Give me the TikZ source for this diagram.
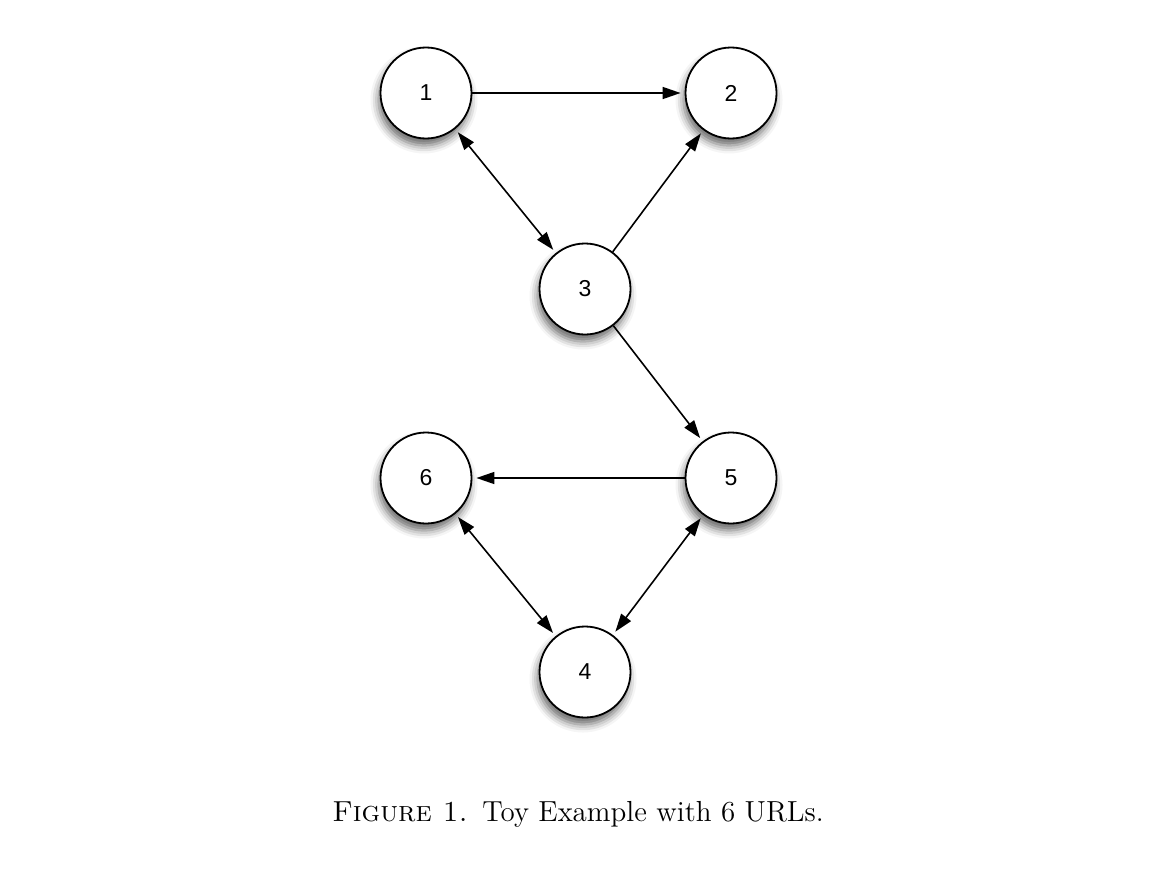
\documentclass[tikz,border=0pt]{standalone}
\usepackage{fontspec}
\newfontfamily\numfont{Liberation Sans}
\usetikzlibrary{arrows.meta,shadows.blur}
\tikzset{
  urlnode/.style={circle, draw=black, line width=0.9pt, fill=white, minimum size=45.5pt, inner sep=0pt,
    font=\numfont\fontsize{11.5}{13}\selectfont,
    blur shadow={shadow xshift=-1pt, shadow yshift=-3.5pt, shadow blur radius=4pt, shadow opacity=60}},
  link/.style={line width=0.8pt, -{Triangle[length=9pt,width=6pt]}, shorten >=2pt},
  biLink/.style={line width=0.8pt, {Triangle[length=9pt,width=6pt]}-{Triangle[length=9pt,width=6pt]}, shorten >=2pt, shorten <=2pt},
}
\begin{document}
\begin{tikzpicture}[x=0.5pt,y=-0.5pt]
\useasboundingbox (0,0) rectangle (1170,888);
\node[urlnode] (n1) at (426,93) {1};
\node[urlnode] (n2) at (731,93) {2};
\node[urlnode] (n3) at (585,289) {3};
\node[urlnode] (n5) at (731,478) {5};
\node[urlnode] (n6) at (426,478) {6};
\node[urlnode] (n4) at (585,672) {4};
\draw[link] (n1) -- (n2);
\draw[biLink] (n1) -- (n3);
\draw[link] (n3) -- (n2);
\draw[link] (n3) -- (n5);
\draw[link] (n5) -- (n6);
\draw[biLink] (n6) -- (n4);
\draw[biLink] (n5) -- (n4);
\node[anchor=base, font=\fontsize{14.5}{17}\selectfont] (cap) at (578,821) {\textsc{Figure 1.}\enspace Toy Example with 6 URLs.};
\end{tikzpicture}
\end{document}
